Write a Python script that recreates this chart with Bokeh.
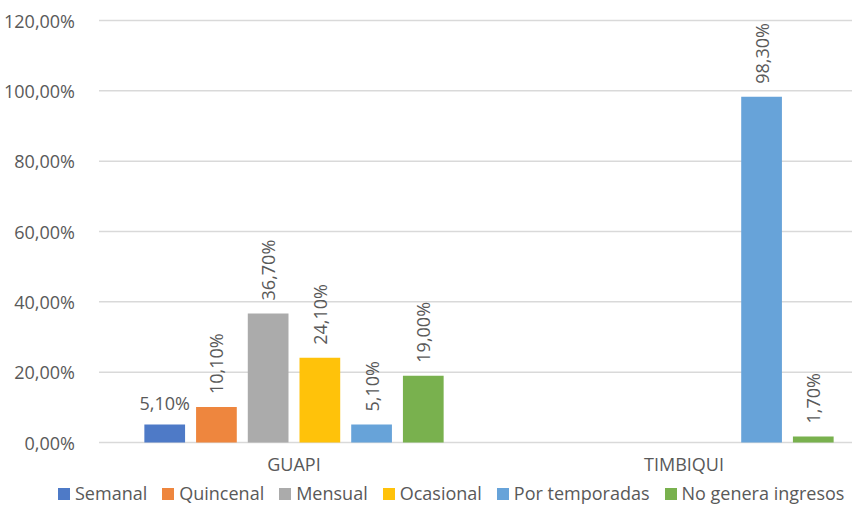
import math
from bokeh.plotting import figure
from bokeh.models import (ColumnDataSource, Range1d, FixedTicker, LabelSet,
                          Legend, LegendItem)
from bokeh.core.properties import value
from bokeh.embed import file_html
from bokeh.resources import INLINE

# ---- data ----
categories = ["GUAPI", "TIMBIQUI"]
series_names = ["Semanal", "Quincenal", "Mensual", "Ocasional",
                "Por temporadas", "No genera ingresos"]
semanal = [5.1, 0.0]
quincenal = [10.1, 0.0]
mensual = [36.7, 0.0]
ocasional = [24.1, 0.0]
por_temporadas = [5.1, 98.3]
no_genera = [19.0, 1.7]
series_values = [semanal, quincenal, mensual, ocasional, por_temporadas, no_genera]
y_ticks = [0, 20, 40, 60, 80, 100, 120]
y_tick_labels = ["0,00%", "20,00%", "40,00%", "60,00%", "80,00%", "100,00%", "120,00%"]

colors = ["#4E7AC7", "#EE863E", "#ABABAB", "#FFC20A", "#67A3D9", "#79B14E"]
FONT = "Open Sans"
TXT = "#595959"
FS = "18px"

# the frame fills the whole canvas
W, H = 852, 505
px_x = 390.0            # px per category
px_y = 422 / 120.0      # px per percent
x0_c = 98.5             # canvas x of category axis start
y0_c = 442.0            # canvas y of 0 %
x_start = (0 - x0_c) / px_x
x_end = (W - x0_c) / px_x
y_top = y0_c / px_y
y_bot = -(H - y0_c) / px_y

p = figure(width=W, height=H, output_backend="svg", toolbar_location=None,
           x_range=Range1d(x_start, x_end), y_range=Range1d(y_bot, y_top),
           min_border_left=0, min_border_top=0, min_border_bottom=0,
           min_border_right=0, title=None)
p.outline_line_color = None
p.background_fill_color = "white"
p.border_fill_color = "white"
p.xgrid.grid_line_color = None
p.ygrid.grid_line_color = None

# horizontal gridlines across the category area only
p.segment(x0=[0] * len(y_ticks), x1=[len(categories)] * len(y_ticks),
          y0=y_ticks, y1=y_ticks, line_color="#D9D9D9", line_width=1.5)

pitch = 0.1326
bar_w = 0.1044
n = len(series_names)
legend_items = []
for j, (name, vals) in enumerate(zip(series_names, series_values)):
    off = (j - (n - 1) / 2) * pitch
    xs = [i + 0.5 + off for i in range(len(categories))]
    src = ColumnDataSource(dict(x=xs, top=vals))
    r = p.vbar(x="x", top="top", bottom=0, width=bar_w, source=src,
               fill_color=colors[j], line_color=None)
    legend_items.append(LegendItem(label=name, renderers=[r]))
    # labels for non-zero values
    lx = [x for x, v in zip(xs, vals) if v != 0]
    lv = [v for v in vals if v != 0]
    lt = [("%.2f%%" % v).replace(".", ",") for v in lv]
    lsrc = ColumnDataSource(dict(x=lx, y=lv, t=lt))
    if j == 0:
        lab = LabelSet(x="x", y="y", text="t", source=lsrc, y_offset=10,
                       text_align="center", text_baseline="bottom",
                       text_font=value(FONT), text_font_size=value(FS),
                       text_color=value(TXT))
    else:
        lab = LabelSet(x="x", y="y", text="t", source=lsrc, y_offset=13,
                       angle=math.pi / 2, text_align="left",
                       text_baseline="middle",
                       text_font=value(FONT), text_font_size=value(FS),
                       text_color=value(TXT))
    p.add_layout(lab)

# axes fixed inside the frame
p.yaxis.fixed_location = 0
p.yaxis.ticker = FixedTicker(ticks=y_ticks)
p.yaxis.major_label_overrides = {t: l for t, l in zip(y_ticks, y_tick_labels)}
p.yaxis.axis_line_color = None
p.yaxis.major_tick_line_color = None
p.yaxis.minor_tick_line_color = None
p.yaxis.major_label_standoff = 18
p.yaxis.major_label_text_font = FONT
p.yaxis.major_label_text_font_size = FS
p.yaxis.major_label_text_color = TXT

p.xaxis.fixed_location = 0
p.xaxis.ticker = FixedTicker(ticks=[i + 0.5 for i in range(len(categories))])
p.xaxis.major_label_overrides = {i + 0.5: c for i, c in enumerate(categories)}
p.xaxis.axis_line_color = None
p.xaxis.major_tick_line_color = None
p.xaxis.minor_tick_line_color = None
p.xaxis.major_label_standoff = 3
p.xaxis.major_label_text_font = FONT
p.xaxis.major_label_text_font_size = FS
p.xaxis.major_label_text_color = TXT

legend = Legend(items=legend_items, orientation="horizontal",
                location=(56, 0), glyph_width=15, glyph_height=15,
                label_standoff=4, spacing=13, padding=0, margin=0,
                border_line_color=None, background_fill_alpha=0,
                label_text_font=FONT, label_text_font_size=FS,
                label_text_color=TXT)
p.add_layout(legend, "center")

open("out.html", "w").write(file_html(p, INLINE))
